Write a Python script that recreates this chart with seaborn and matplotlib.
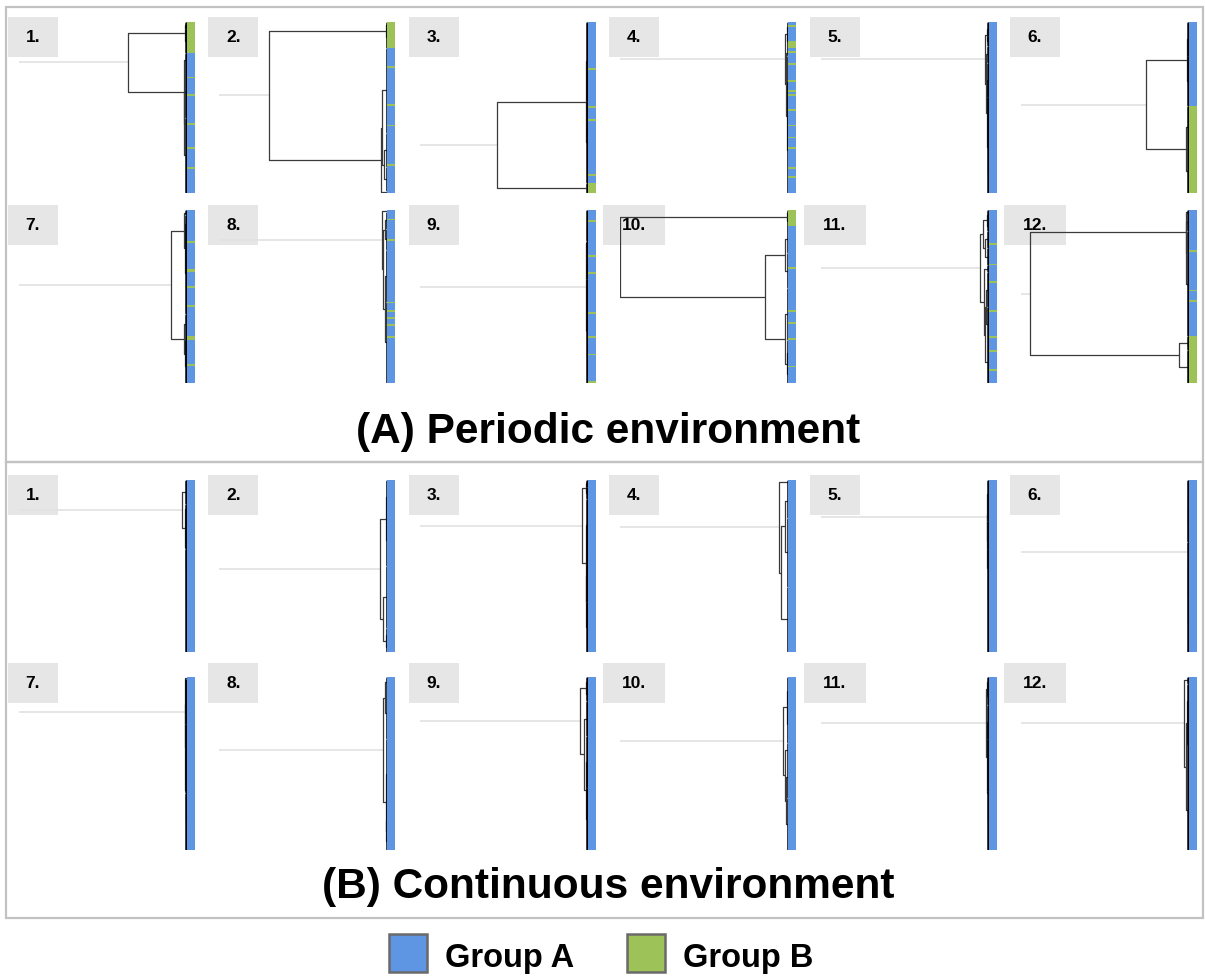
import numpy as np
import matplotlib
matplotlib.use("Agg")
import matplotlib.pyplot as plt
from matplotlib.colors import ListedColormap
from matplotlib.patches import Rectangle
import seaborn as sns

sns.set_theme(style="white")
plt.rcParams["font.family"] = ["Liberation Sans", "DejaVu Sans"]
plt.rcParams["text.color"] = "black"

N_LEAVES = 100
GROUPS = ["Group A", "Group B"]
GROUP_COLORS = ["#5f96e3", "#9dc257"]

# merge trees: [height, upper child, lower child]; an int is a tight cluster of that many leaves
periodic_trees = [
    [0.353, [0.01, 4, 14], [0.02, 8, [0.015, 30, 44]]],
    [0.707, [0.01, 3, 12], [0.036, [0.03, 50, [0.02, 20, 14]], 1]],
    [0.54, [0.012, 46, 48], [0.006, 3, 3]],
    [0.018, [0.01, 6, 10], [0.012, 4, [0.008, 30, 50]]],
    [0.024, [0.01, 8, 6], [0.014, 10, [0.01, 20, [0.006, 30, 26]]]],
    [0.257, [0.01, 20, 29], [0.015, 25, 26]],
    [0.096, [0.016, 3, [0.012, 10, 47]], [0.016, 12, [0.01, 8, 20]]],
    [0.03, 1, [0.028, [0.012, 10, 12], [0.015, 30, 47]]],
    [0.01, [0.006, 18, 22], [0.007, 30, 30]],
    [1.0, [0.008, 4, 5], [0.138, [0.02, 16, 20], [0.02, 30, [0.01, 15, 10]]]],
    [0.054, [0.035, [0.01, 6, 6], [0.02, 10, 10]], [0.03, 4, [0.02, [0.015, 20, 20], 24]]],
    [0.946, [0.02, 2, [0.015, 10, 61]], [0.06, 8, 19]],
]
continuous_trees = [
    [0.03, 14, [0.01, 6, [0.007, 10, [0.005, 10, 60]]]],
    [0.042, [0.01, 20, 30], [0.025, 36, [0.01, 8, 6]]],
    [0.036, [0.01, 4, 7], [0.012, 30, [0.008, 30, 29]]],
    [0.055, 2, [0.04, [0.02, 20, 40], 38]],
    [0.01, 16, [0.007, 8, [0.005, 16, 60]]],
    [0.007, [0.005, 16, 20], [0.006, 30, 34]],
    [0.012, 1, [0.01, [0.006, 16, 10], [0.005, 40, 33]]],
    [0.024, [0.012, 6, 30], [0.01, 40, [0.006, 14, 10]]],
    [0.046, [0.01, 6, 8], [0.02, 20, [0.01, 30, 36]]],
    [0.033, [0.01, 16, 22], [0.02, 8, [0.012, 24, 30]]],
    [0.018, [0.008, 6, 10], [0.01, 20, [0.006, 30, 34]]],
    [0.03, 4, [0.02, [0.01, 20, 30], 46]],
]

# leaves belonging to Group B, as (first leaf, count), top to bottom
periodic_group_b = [
    [(0, 18), (32, 1), (42, 1), (59, 1), (73, 1), (85, 1)],
    [(0, 15), (26, 1), (48, 1), (60, 1), (83, 1)],
    [(27, 1), (49, 1), (57, 1), (89, 1), (94, 6)],
    [(2, 1), (11, 4), (17, 1), (24, 1), (34, 1), (40, 1), (42, 1), (51, 1),
     (60, 1), (67, 1), (73, 1), (85, 1), (90, 1)],
    [],
    [(49, 51)],
    [(18, 1), (34, 2), (44, 1), (55, 1), (73, 2), (89, 1)],
    [(5, 1), (17, 1), (53, 1), (58, 1), (62, 1), (66, 1), (73, 1)],
    [(6, 1), (26, 1), (36, 1), (59, 1), (73, 1), (83, 1), (99, 1)],
    [(0, 9), (33, 1), (58, 1), (65, 1), (74, 1), (90, 1)],
    [(19, 1), (31, 1), (41, 1), (58, 1), (73, 1), (81, 1), (92, 1)],
    [(23, 1), (46, 1), (52, 1), (73, 27)],
]
continuous_group_b = [[] for _ in range(12)]

section_titles = ["(A) Periodic environment", "(B) Continuous environment"]

LEAF_H = 0.003
W, H = 1205, 976
fig = plt.figure(figsize=(W / 100, H / 100), dpi=100)


def px_axes(x, y, w, h):
    return fig.add_axes([x / W, 1 - (y + h) / H, w / W, h / H])


def layout(node, start, segs):
    if isinstance(node, int):
        first, last = start + 0.5, start + node - 0.5
        segs.append(("leaf", [LEAF_H, LEAF_H], [first, last]))
        return (first + last) / 2, LEAF_H, start + node
    h, upper, lower = node
    y1, h1, start = layout(upper, start, segs)
    y2, h2, start = layout(lower, start, segs)
    segs.append(("link", [h1, h, h, h2], [y1, y1, y2, y2]))
    return (y1 + y2) / 2, h, start


def draw_panel(left, top, height, tree, group_b, label, label_top):
    # label box
    bw = 50 if len(label) == 2 else 62
    cx = left + 25
    fig.add_artist(Rectangle(((cx - bw / 2) / W, 1 - (label_top + 40) / H), bw / W, 40 / H,
                             transform=fig.transFigure, facecolor="#e6e6e6",
                             edgecolor="none", zorder=-2))
    fig.text(cx / W, 1 - (label_top + 20) / H, label, ha="center", va="center",
             fontsize=12.5, fontweight="bold", color="black", zorder=-1)

    # dendrogram
    ax = px_axes(left + 11, top, 168, height)
    segs = []
    root_y, root_h, _ = layout(tree, 0, segs)
    ax.plot([1.0, root_h], [root_y, root_y], color="#e2e2e2", lw=1.2, zorder=1)
    for kind, xs, ys in segs:
        if kind == "leaf":
            ax.plot(xs, ys, color="black", lw=1.8, zorder=3)
        else:
            ax.plot(xs, ys, color="#3a3a3a", lw=0.9, zorder=2)
    ax.set_xlim(1.0, 0)
    ax.set_ylim(N_LEAVES, 0)
    ax.axis("off")

    # group strip
    codes = np.zeros(N_LEAVES)
    for first, count in group_b:
        codes[first:first + count] = 1
    sax = px_axes(left + 179, top, 8, height)
    sns.heatmap(codes.reshape(-1, 1), ax=sax, cmap=ListedColormap(GROUP_COLORS),
                vmin=0, vmax=1, cbar=False, xticklabels=False, yticklabels=False)
    sax.axis("off")


col_left = [8 + 200.4 * c for c in range(6)]
sections = [
    (periodic_trees, periodic_group_b, [(22, 171, 17), (210, 173, 205)]),
    (continuous_trees, continuous_group_b, [(480, 172, 475), (677, 173, 663)]),
]
for trees, groups_b, rows in sections:
    for i, (tree, gb) in enumerate(zip(trees, groups_b)):
        top, height, label_top = rows[i // 6]
        draw_panel(col_left[i % 6], top, height, tree, gb, f"{i + 1}.", label_top)

# section frames and titles
for y0, y1 in [(7, 462), (462, 918)]:
    fig.add_artist(Rectangle((6 / W, 1 - y1 / H), 1197 / W, (y1 - y0) / H,
                             transform=fig.transFigure, facecolor="none",
                             edgecolor="#c2c2c2", lw=1.6, zorder=5))
for title, base in zip(section_titles, [443, 898]):
    fig.text(608 / W, 1 - base / H, title, ha="center", va="baseline",
             fontsize=30.5, fontweight="bold", color="black")

# legend
for name, color, bx in zip(GROUPS, GROUP_COLORS, [389, 627]):
    fig.add_artist(Rectangle((bx / W, 1 - 972 / H), 38 / W, 38 / H,
                             transform=fig.transFigure, facecolor=color,
                             edgecolor="#6a6a6a", lw=1.8))
    fig.text((bx + 56) / W, 1 - 967 / H, name, ha="left", va="baseline",
             fontsize=23.5, fontweight="bold", color="black")

fig.savefig("out.png", dpi=100)
